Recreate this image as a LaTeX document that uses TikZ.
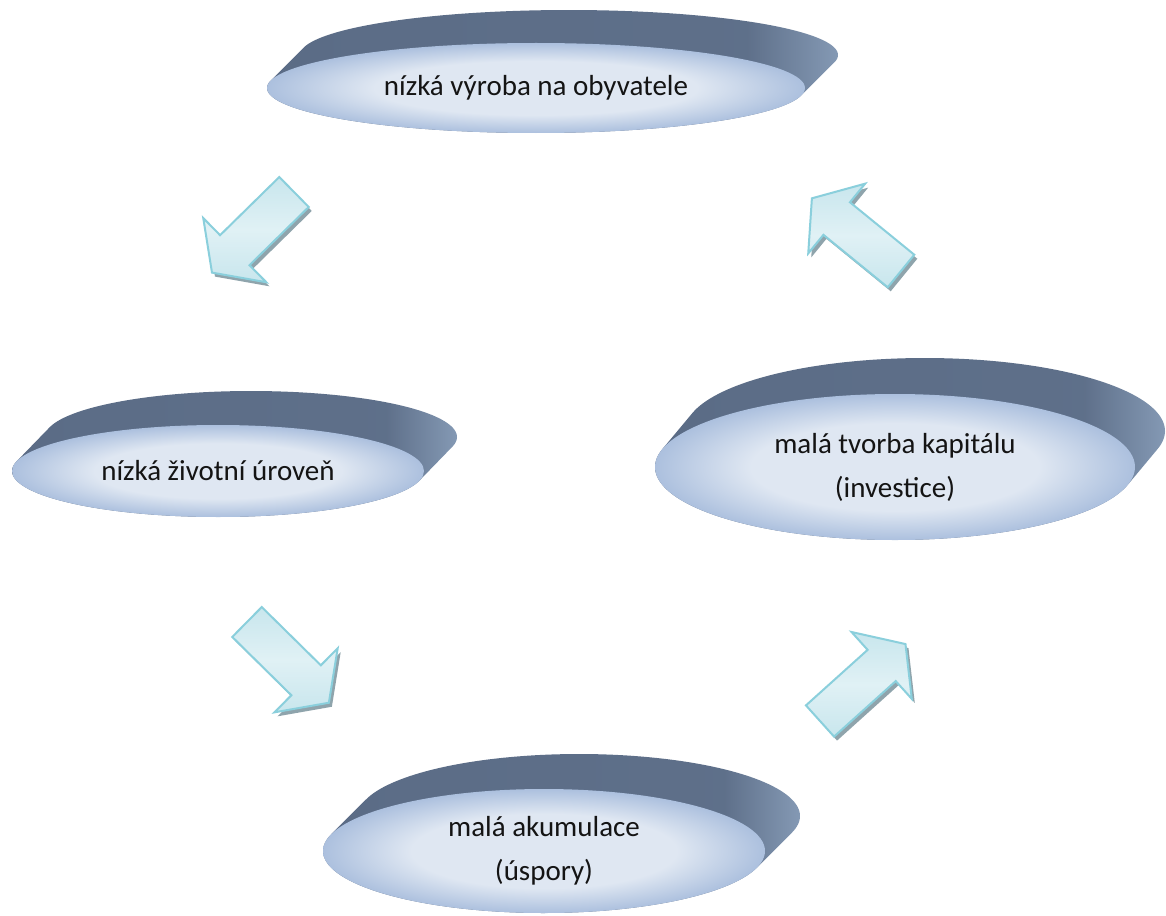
\documentclass[tikz,border=0pt]{standalone}
\usepackage{fontspec}
\setmainfont{Carlito}
\usetikzlibrary{shapes.geometric}
\definecolor{sideA}{HTML}{5B6C86}
\definecolor{sideB}{HTML}{8499B4}
\definecolor{faceL}{HTML}{DFE7F2}
\definecolor{faceD}{HTML}{ACC0DE}
\definecolor{arrFillA}{HTML}{E0F1F5}
\definecolor{arrFillB}{HTML}{C8E6ED}
\definecolor{arrLine}{HTML}{8ACFDC}
\definecolor{arrShadow}{HTML}{8FA4AC}
\definecolor{txt}{HTML}{141414}
\pgfdeclarehorizontalshading{disksideshade}{100bp}{color(0bp)=(sideA); color(25bp)=(sideA); color(67bp)=(sideA!92!sideB); color(75bp)=(sideB); color(100bp)=(sideB)}
\pgfdeclareradialshading{diskfaceshade}{\pgfpoint{0bp}{0bp}}{color(0bp)=(faceL); color(15bp)=(faceL); color(25bp)=(faceD); color(50bp)=(faceD)}
\tikzset{
  diskface/.style={ellipse, inner sep=0pt, shading=diskfaceshade, text=txt,
    font=\fontsize{29}{44}\selectfont, align=center},
  arrowbody/.style={top color=arrFillB, bottom color=arrFillB, middle color=arrFillA,
    draw=arrLine, line width=2pt},
  arrowshadow/.style={fill=arrShadow}
}
% side (thickness) of a disk: cx, cy, rx, ry, dx, dy
\newcommand\diskside[6]{%
  \pgfmathsetmacro\tz{atan(-(#4*#5)/(#3*(#6)))}%
  \pgfmathsetmacro\ta{\tz+180}%
  \pgfmathsetmacro\tb{\tz+360}%
  \shade[shading=disksideshade]
    plot[domain=\ta:\tb,samples=90,variable=\ang] ({#1+#5+#3*cos(\ang)},{#2+(#6)+#4*sin(\ang)})
    -- plot[domain=\tz:\ta,samples=90,variable=\ang] ({#1+#3*cos(\ang)},{#2+#4*sin(\ang)})
    -- cycle;}
% block arrow: start x, start y, angle
\newcommand\blockarrow[3]{%
  \begin{scope}[shift={(#1+3,#2+4)}, rotate=#3]
    \fill[arrowshadow] (0,-21) -- (83,-21) -- (83,-45) -- (115,0) -- (83,45) -- (83,21) -- (0,21) -- cycle;
  \end{scope}
  \begin{scope}[shift={(#1,#2)}, rotate=#3]
    \shade[arrowbody] (0,-21) -- (83,-21) -- (83,-45) -- (115,0) -- (83,45) -- (83,21) -- (0,21) -- cycle;
  \end{scope}}
\begin{document}
\begin{tikzpicture}[x=1pt,y=-1pt]
\useasboundingbox (0,0) rectangle (1166,915);
\fill[white] (0,0) rectangle (1166,915);

% disks
\diskside{536}{88}{269}{45}{33}{-33}
\node[diskface, minimum width=538pt, minimum height=90pt] (prod) at (536,88) {nízká výroba na obyvatele};

\diskside{218}{471}{206}{46}{33}{-34}
\node[diskface, minimum width=412pt, minimum height=92pt] (life) at (218,471) {nízká životní úroveň};

\diskside{895}{467}{240}{73}{30}{-36}
\node[diskface, minimum width=480pt, minimum height=146pt] (invest) at (895,467) {malá tvorba kapitálu\\(investice)};

\diskside{544}{851}{221}{62}{35}{-35}
\node[diskface, minimum width=442pt, minimum height=124pt] (accum) at (544,851) {malá akumulace\\(úspory)};

% arrows
\blockarrow{294}{192}{224.5}
\blockarrow{247}{622}{-44.6}
\blockarrow{820}{721}{42}
\blockarrow{901}{271}{140.8}
\end{tikzpicture}
\end{document}
